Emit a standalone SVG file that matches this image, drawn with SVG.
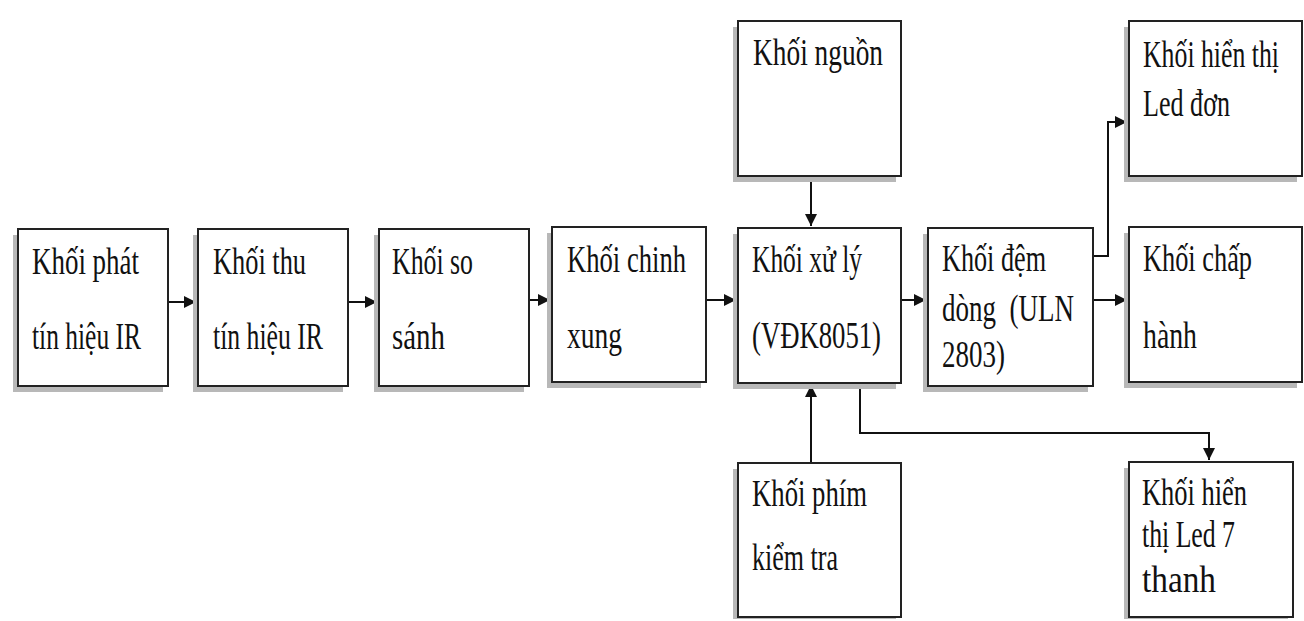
<svg xmlns="http://www.w3.org/2000/svg" width="1304" height="621" viewBox="0 0 1304 621">
<style>
.box{fill:#fff;stroke:#222;stroke-width:2}
.sh{fill:#b8b8b8}
.t{font-family:"Liberation Serif","Times New Roman",serif;font-size:37px;fill:#111}
.c{fill:none;stroke:#111;stroke-width:2}
</style>
<defs>
<marker id="ah" markerUnits="userSpaceOnUse" markerWidth="13" markerHeight="12" refX="12" refY="6" orient="auto">
<path d="M0,0 L12,6 L0,12 z" fill="#111"/>
</marker>
</defs>
<rect width="1304" height="621" fill="#fff"/>

<g id="connectors">
<path class="c" d="M168,302 H196" marker-end="url(#ah)"/>
<path class="c" d="M348,302 H377" marker-end="url(#ah)"/>
<path class="c" d="M529,300 H550" marker-end="url(#ah)"/>
<path class="c" d="M706,300 H736" marker-end="url(#ah)"/>
<path class="c" d="M901,300 H926" marker-end="url(#ah)"/>
<path class="c" d="M1093,300 H1127" marker-end="url(#ah)"/>
<path class="c" d="M811,176 V226" marker-end="url(#ah)"/>
<path class="c" d="M811,463 V385" marker-end="url(#ah)"/>
<path class="c" d="M1093,256 H1108 V122 H1127" marker-end="url(#ah)"/>
<path class="c" d="M860,383 V433 H1209 V460" marker-end="url(#ah)"/>
</g>

<g id="n1">
<rect class="sh" x="13" y="235" width="150" height="157"/>
<rect class="box" x="18" y="229" width="150" height="157"/>
<text class="t" x="32" y="274" textLength="107" lengthAdjust="spacingAndGlyphs">Khối phát</text>
<text class="t" x="32" y="349" textLength="109" lengthAdjust="spacingAndGlyphs">tín hiệu IR</text>
</g>
<g id="n2">
<rect class="sh" x="193" y="235" width="150" height="157"/>
<rect class="box" x="198" y="229" width="150" height="157"/>
<text class="t" x="213" y="274" textLength="93" lengthAdjust="spacingAndGlyphs">Khối thu</text>
<text class="t" x="213" y="349" textLength="110" lengthAdjust="spacingAndGlyphs">tín hiệu IR</text>
</g>
<g id="n3">
<rect class="sh" x="374" y="235" width="150" height="157"/>
<rect class="box" x="379" y="229" width="150" height="157"/>
<text class="t" x="392" y="274" textLength="81" lengthAdjust="spacingAndGlyphs">Khối so</text>
<text class="t" x="392" y="349" textLength="53" lengthAdjust="spacingAndGlyphs">sánh</text>
</g>
<g id="n4">
<rect class="sh" x="547" y="233" width="154" height="155"/>
<rect class="box" x="552" y="227" width="154" height="155"/>
<text class="t" x="567" y="272" textLength="119" lengthAdjust="spacingAndGlyphs">Khối chinh</text>
<text class="t" x="567" y="348" textLength="55" lengthAdjust="spacingAndGlyphs">xung</text>
</g>
<g id="n5">
<rect class="sh" x="733" y="234" width="163" height="155"/>
<rect class="box" x="738" y="228" width="163" height="155"/>
<text class="t" x="752" y="272" textLength="110" lengthAdjust="spacingAndGlyphs">Khối xử lý</text>
<text class="t" x="752" y="348" textLength="129" lengthAdjust="spacingAndGlyphs">(VĐK8051)</text>
</g>
<g id="n6">
<rect class="sh" x="923" y="234" width="165" height="158"/>
<rect class="box" x="928" y="228" width="165" height="158"/>
<text class="t" x="942" y="271" textLength="104" lengthAdjust="spacingAndGlyphs">Khối đệm</text>
<text class="t" x="942" y="321" textLength="132" lengthAdjust="spacingAndGlyphs" xml:space="preserve">dòng  (ULN</text>
<text class="t" x="942" y="367" textLength="63" lengthAdjust="spacingAndGlyphs">2803)</text>
</g>
<g id="n7">
<rect class="sh" x="1124" y="233" width="173" height="155"/>
<rect class="box" x="1129" y="227" width="173" height="155"/>
<text class="t" x="1143" y="271" textLength="109" lengthAdjust="spacingAndGlyphs">Khối chấp</text>
<text class="t" x="1143" y="348" textLength="54" lengthAdjust="spacingAndGlyphs">hành</text>
</g>
<g id="n8">
<rect class="sh" x="733" y="27" width="163" height="155"/>
<rect class="box" x="738" y="21" width="163" height="155"/>
<text class="t" x="753" y="65" textLength="130" lengthAdjust="spacingAndGlyphs">Khối nguồn</text>
</g>
<g id="n9">
<rect class="sh" x="1124" y="27" width="173" height="155"/>
<rect class="box" x="1129" y="21" width="173" height="155"/>
<text class="t" x="1143" y="67" textLength="136" lengthAdjust="spacingAndGlyphs">Khối hiển thị</text>
<text class="t" x="1143" y="116" textLength="87" lengthAdjust="spacingAndGlyphs">Led đơn</text>
</g>
<g id="n10">
<rect class="sh" x="733" y="469" width="163" height="150"/>
<rect class="box" x="738" y="463" width="163" height="154"/>
<text class="t" x="752" y="506" textLength="115" lengthAdjust="spacingAndGlyphs">Khối phím</text>
<text class="t" x="752" y="570" textLength="86" lengthAdjust="spacingAndGlyphs">kiểm tra</text>
</g>
<g id="n11">
<rect class="sh" x="1124" y="468" width="164" height="151"/>
<rect class="box" x="1129" y="462" width="164" height="155"/>
<text class="t" x="1142" y="505" textLength="105" lengthAdjust="spacingAndGlyphs">Khối hiển</text>
<text class="t" x="1142" y="547" textLength="93" lengthAdjust="spacingAndGlyphs">thị Led 7</text>
<text class="t" x="1142" y="592" textLength="74" lengthAdjust="spacingAndGlyphs">thanh</text>
</g>
</svg>
